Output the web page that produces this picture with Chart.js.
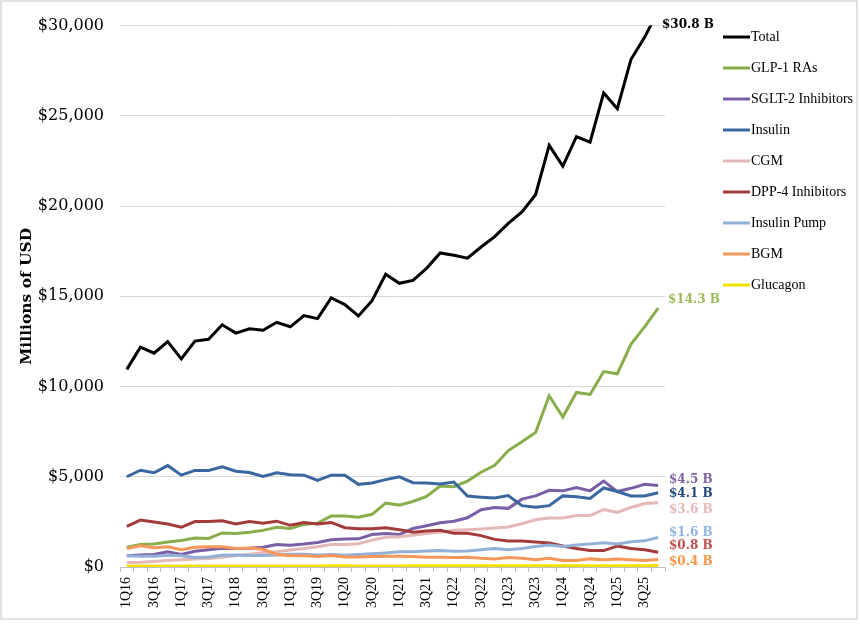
<!DOCTYPE html>
<html>
<head>
<meta charset="utf-8">
<script src="https://cdn.jsdelivr.net/npm/chart.js@4.4.1/dist/chart.umd.min.js"></script>
<style>
  html, body { margin: 0; padding: 0; background: #fff; }
  #wrap { width: 860px; height: 624px; }
</style>
</head>
<body>
<div id="wrap"><canvas id="c" width="860" height="624"></canvas></div>
<script>
const quarters = ['1Q16','2Q16','3Q16','4Q16','1Q17','2Q17','3Q17','4Q17','1Q18','2Q18','3Q18','4Q18',
  '1Q19','2Q19','3Q19','4Q19','1Q20','2Q20','3Q20','4Q20','1Q21','2Q21','3Q21','4Q21',
  '1Q22','2Q22','3Q22','4Q22','1Q23','2Q23','3Q23','4Q23','1Q24','2Q24','3Q24','4Q24',
  '1Q25','2Q25','3Q25','4Q25'];

const yTicks = [0, 5000, 10000, 15000, 20000, 25000, 30000];

const total = [10950,12180,11850,12490,11530,12520,12620,13420,12960,13200,13120,13560,
  13310,13930,13760,14910,14540,13910,14760,16220,15720,15880,16550,17400,
  17270,17110,17730,18310,19040,19670,20630,23360,22210,23850,23540,26270,
  25400,28120,29350,30800];
const glp1 = [1090,1250,1270,1380,1470,1600,1580,1890,1850,1930,2030,2200,
  2130,2360,2430,2830,2820,2760,2920,3540,3430,3630,3910,4490,
  4450,4760,5250,5630,6450,6940,7450,9490,8310,9670,9560,10830,
  10710,12340,13310,14340];
const sglt2 = [620,670,690,840,690,870,950,1040,1020,1040,1090,1250,
  1200,1270,1360,1510,1550,1560,1800,1850,1800,2130,2290,2450,
  2540,2730,3170,3300,3250,3760,3940,4250,4220,4400,4220,4760,
  4180,4360,4580,4510];
const insulin = [5000,5360,5220,5620,5090,5350,5350,5550,5310,5240,5020,5220,
  5110,5090,4800,5090,5090,4580,4660,4840,5000,4670,4660,4600,
  4710,3930,3870,3820,3960,3400,3310,3400,3940,3890,3800,4380,
  4180,3940,3940,4110];
const cgm = [250,270,310,360,400,440,470,540,640,700,800,850,
  940,1020,1120,1250,1250,1290,1490,1650,1670,1760,1850,1930,
  2030,2070,2110,2160,2220,2400,2620,2710,2710,2850,2850,3180,
  3020,3300,3520,3560];
const dpp4 = [2250,2600,2490,2380,2200,2520,2520,2560,2380,2520,2430,2540,
  2310,2470,2380,2470,2180,2120,2120,2180,2070,1930,2000,2030,
  1870,1870,1740,1530,1440,1440,1380,1330,1160,1020,910,910,
  1160,1020,950,820];
const pump = [620,600,600,650,620,530,560,650,670,640,640,670,
  710,710,670,690,650,690,730,780,840,850,890,910,
  870,890,950,1020,950,1020,1130,1220,1130,1220,1270,1350,
  1270,1400,1450,1640];
const bgm = [1020,1180,1070,1120,960,1090,1120,1120,1020,1050,980,690,
  620,620,580,640,560,560,580,600,600,580,545,545,
  530,545,480,450,530,490,400,490,360,360,450,400,
  440,400,360,420];
const glucagon = [50,50,52,52,55,55,55,58,58,60,60,60,
  62,62,62,63,63,60,60,62,62,64,65,65,
  66,66,68,68,70,70,70,72,72,72,74,74,
  75,75,76,78];

const seriesNames = ['Total','GLP-1 RAs','SGLT-2 Inhibitors','Insulin','CGM','DPP-4 Inhibitors','Insulin Pump','BGM','Glucagon'];
const seriesData = [total, glp1, sglt2, insulin, cgm, dpp4, pump, bgm, glucagon];
const lineColors = ['#000000','#8aad4c','#7b5fa6','#3a67a0','#e3b8b7','#a33b3a','#93b1d8','#f7975a','#f2e100'];
const labelColors = ['#000000','#9bbb59','#8064a2','#1f497d','#e6b9b8','#c0504d','#8eb4e3','#f79646',null];
const labelDy = [-1, -8, -6, 1, 7, -6, -4.5, 2, 0];
const labelDx = [-3, 3, 4, 4, 4, 4, 4, 4, 0];

const datasets = seriesNames.map((name, i) => ({
  label: name,
  data: seriesData[i],
  borderColor: lineColors[i],
  backgroundColor: lineColors[i],
  borderWidth: 3,
  pointRadius: 0,
  tension: 0,
  fill: false,
  order: seriesNames.length - 1 - i,
  endLabel: labelColors[i] ? { color: labelColors[i], dy: labelDy[i], dx: labelDx[i] } : null
}));

const framePlugin = {
  id: 'frame',
  beforeDraw(chart) {
    const ctx = chart.ctx;
    ctx.save();
    ctx.fillStyle = '#ffffff';
    ctx.fillRect(0, 0, chart.width, chart.height);
    ctx.strokeStyle = '#d9d9d9';
    ctx.lineWidth = 1.5;
    ctx.strokeRect(1, 1, 856, 618);
    ctx.restore();
  }
};

const endLabelPlugin = {
  id: 'endLabels',
  afterDatasetsDraw(chart) {
    const ctx = chart.ctx;
    const y = chart.scales.y;
    const area = chart.chartArea;
    ctx.save();
    ctx.font = 'bold 12px "DejaVu Serif"';
    ctx.textAlign = 'left';
    ctx.textBaseline = 'middle';
    chart.data.datasets.forEach(ds => {
      if (!ds.endLabel) return;
      const last = ds.data[ds.data.length - 1];
      let py = Math.max(area.top, y.getPixelForValue(last));
      const text = '$' + (last / 1000).toFixed(1) + ' B';
      ctx.fillStyle = ds.endLabel.color;
      ctx.fillText(text, area.right + ds.endLabel.dx, py + ds.endLabel.dy);
    });
    ctx.restore();
  }
};

const legendPlugin = {
  id: 'sideLegend',
  afterDraw(chart) {
    const ctx = chart.ctx;
    ctx.save();
    ctx.font = '14px "Liberation Serif"';
    ctx.textAlign = 'left';
    ctx.textBaseline = 'middle';
    chart.data.datasets.forEach((ds, i) => {
      const yy = 37 + 31 * i;
      ctx.strokeStyle = ds.borderColor;
      ctx.lineWidth = 3;
      ctx.beginPath();
      ctx.moveTo(723, yy);
      ctx.lineTo(750, yy);
      ctx.stroke();
      ctx.fillStyle = '#000000';
      ctx.fillText(ds.label, 751, yy);
    });
    ctx.restore();
  }
};

new Chart(document.getElementById('c'), {
  type: 'line',
  data: { labels: quarters, datasets },
  plugins: [framePlugin, endLabelPlugin, legendPlugin],
  options: {
    responsive: false,
    animation: false,
    devicePixelRatio: 1,
    layout: { padding: { left: 0, right: 195, top: 17, bottom: 0 } },
    plugins: { legend: { display: false }, tooltip: { enabled: false } },
    scales: {
      x: {
        type: 'category',
        offset: true,
        grid: { offset: true, drawOnChartArea: false, drawTicks: true, tickLength: 5, color: '#bfbfbf' },
        border: { color: '#bfbfbf', width: 1 },
        ticks: {
          autoSkip: false, minRotation: 90, maxRotation: 90, padding: 5,
          color: '#000000',
          font: { family: '"Liberation Serif"', size: 14 },
          callback: function(v, idx) { return idx % 2 === 0 ? quarters[idx] : ''; }
        },
        afterFit: s => { s.height = 57; }
      },
      y: {
        min: yTicks[0],
        max: yTicks[yTicks.length - 1],
        afterBuildTicks: s => { s.ticks = yTicks.map(v => ({ value: v })); },
        grid: { color: '#d9d9d9', drawTicks: false, lineWidth: 1 },
        border: { display: false },
        ticks: {
          padding: 16,
          color: '#000000',
          font: { family: '"DejaVu Serif"', size: 16 },
          callback: v => '$' + Number(v).toLocaleString('en-US')
        },
        title: {
          display: true,
          text: 'Millions of USD',
          color: '#000000',
          font: { family: '"DejaVu Serif"', size: 15.5, weight: 'bold' },
          padding: { top: 18, bottom: 0 }
        },
        afterFit: s => { s.width = 120; }
      }
    }
  }
});
</script>
</body>
</html>
